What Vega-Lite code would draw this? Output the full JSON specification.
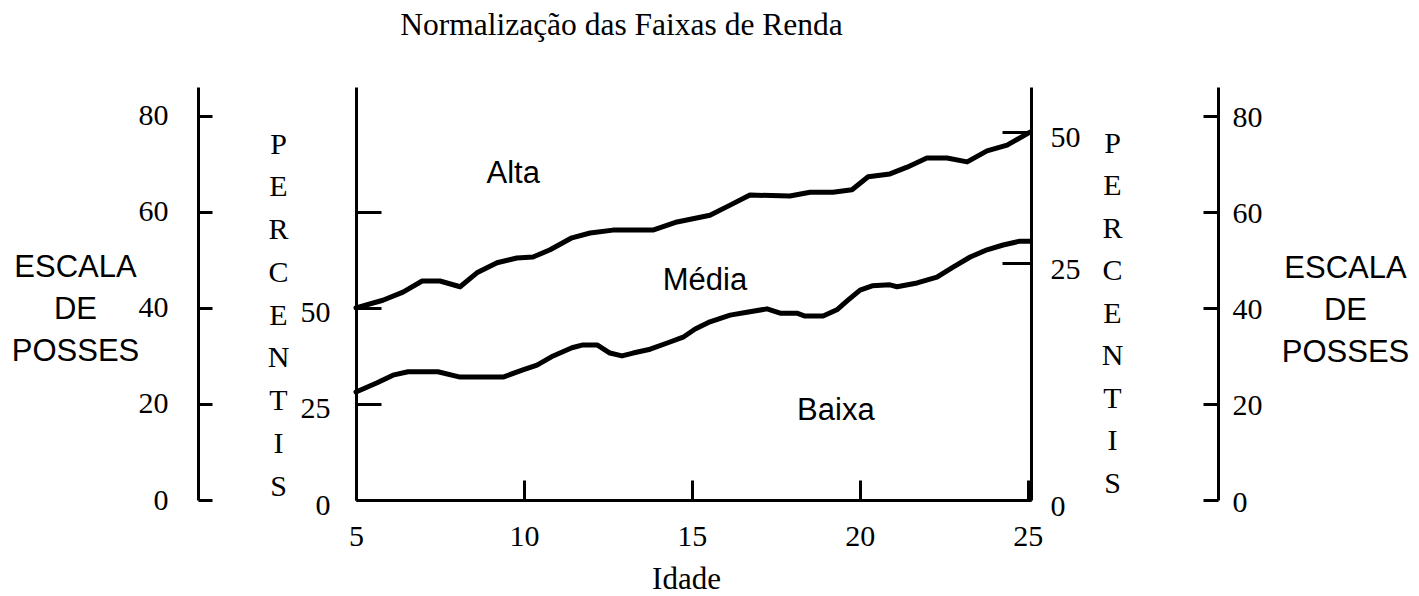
{
  "$schema": "https://vega.github.io/schema/vega-lite/v6.json",
  "width": 675,
  "height": 413,
  "autosize": "none",
  "padding": {"left": 356, "top": 87, "right": 388, "bottom": 96},
  "background": "white",
  "title": {
    "text": "Normalização das Faixas de Renda",
    "font": "Liberation Serif",
    "fontSize": 31.5,
    "fontWeight": "normal",
    "color": "black",
    "anchor": "middle",
    "frame": "group",
    "dx": -72,
    "offset": 21,
    "baseline": "alphabetic"
  },
  "config": {
    "view": {"stroke": null},
    "axis": {
      "grid": false,
      "domainColor": "black",
      "domainWidth": 3,
      "tickColor": "black",
      "tickWidth": 3,
      "labelFont": "Liberation Serif",
      "labelFontSize": 30,
      "labelColor": "black",
      "labelFlush": false,
      "labelOverlap": false,
      "titleColor": "black",
      "titleFontWeight": "normal",
      "titleAngle": 0,
      "titleAlign": "center",
      "titleBaseline": "alphabetic"
    }
  },
  "encoding": {
    "x": {
      "field": "idade", "type": "quantitative",
      "scale": {"domain": [5, 25.1], "nice": false, "zero": false},
      "axis": {
        "orient": "bottom",
        "values": [5, 10, 15, 20, 25],
        "tickSize": -20,
        "labelPadding": 65,
        "labelBaseline": "alphabetic",
        "title": "Idade",
        "titleFont": "Liberation Serif",
        "titleFontSize": 31,
        "titleX": 330,
        "titleY": 88
      }
    }
  },
  "layer": [
    {
      "data": {
        "values": [
          {"faixa": "superior", "idade": 5.00, "posses": 40.0},
          {"faixa": "superior", "idade": 5.80, "posses": 41.6},
          {"faixa": "superior", "idade": 6.40, "posses": 43.3},
          {"faixa": "superior", "idade": 6.97, "posses": 45.6},
          {"faixa": "superior", "idade": 7.50, "posses": 45.6},
          {"faixa": "superior", "idade": 8.10, "posses": 44.4},
          {"faixa": "superior", "idade": 8.60, "posses": 47.3},
          {"faixa": "superior", "idade": 9.20, "posses": 49.4},
          {"faixa": "superior", "idade": 9.79, "posses": 50.4},
          {"faixa": "superior", "idade": 10.27, "posses": 50.6},
          {"faixa": "superior", "idade": 10.78, "posses": 52.1},
          {"faixa": "superior", "idade": 11.43, "posses": 54.6},
          {"faixa": "superior", "idade": 11.97, "posses": 55.6},
          {"faixa": "superior", "idade": 12.65, "posses": 56.2},
          {"faixa": "superior", "idade": 13.84, "posses": 56.2},
          {"faixa": "superior", "idade": 14.56, "posses": 57.9},
          {"faixa": "superior", "idade": 15.54, "posses": 59.3},
          {"faixa": "superior", "idade": 16.14, "posses": 61.4},
          {"faixa": "superior", "idade": 16.73, "posses": 63.5},
          {"faixa": "superior", "idade": 17.92, "posses": 63.3},
          {"faixa": "superior", "idade": 18.52, "posses": 64.1},
          {"faixa": "superior", "idade": 19.20, "posses": 64.1},
          {"faixa": "superior", "idade": 19.77, "posses": 64.6},
          {"faixa": "superior", "idade": 20.25, "posses": 67.3},
          {"faixa": "superior", "idade": 20.90, "posses": 67.9},
          {"faixa": "superior", "idade": 21.41, "posses": 69.3},
          {"faixa": "superior", "idade": 22.00, "posses": 71.2},
          {"faixa": "superior", "idade": 22.60, "posses": 71.2},
          {"faixa": "superior", "idade": 23.20, "posses": 70.4},
          {"faixa": "superior", "idade": 23.79, "posses": 72.7},
          {"faixa": "superior", "idade": 24.39, "posses": 73.9},
          {"faixa": "superior", "idade": 25.07, "posses": 76.6},
          {"faixa": "inferior", "idade": 5.00, "posses": 22.5},
          {"faixa": "inferior", "idade": 5.63, "posses": 24.4},
          {"faixa": "inferior", "idade": 6.10, "posses": 26.0},
          {"faixa": "inferior", "idade": 6.55, "posses": 26.7},
          {"faixa": "inferior", "idade": 7.44, "posses": 26.7},
          {"faixa": "inferior", "idade": 8.10, "posses": 25.6},
          {"faixa": "inferior", "idade": 9.38, "posses": 25.6},
          {"faixa": "inferior", "idade": 9.97, "posses": 27.1},
          {"faixa": "inferior", "idade": 10.39, "posses": 28.1},
          {"faixa": "inferior", "idade": 10.87, "posses": 30.0},
          {"faixa": "inferior", "idade": 11.43, "posses": 31.7},
          {"faixa": "inferior", "idade": 11.76, "posses": 32.3},
          {"faixa": "inferior", "idade": 12.18, "posses": 32.3},
          {"faixa": "inferior", "idade": 12.56, "posses": 30.6},
          {"faixa": "inferior", "idade": 12.92, "posses": 30.0},
          {"faixa": "inferior", "idade": 13.25, "posses": 30.6},
          {"faixa": "inferior", "idade": 13.76, "posses": 31.4},
          {"faixa": "inferior", "idade": 14.35, "posses": 32.9},
          {"faixa": "inferior", "idade": 14.74, "posses": 33.9},
          {"faixa": "inferior", "idade": 15.10, "posses": 35.6},
          {"faixa": "inferior", "idade": 15.54, "posses": 37.1},
          {"faixa": "inferior", "idade": 16.14, "posses": 38.5},
          {"faixa": "inferior", "idade": 16.64, "posses": 39.1},
          {"faixa": "inferior", "idade": 17.24, "posses": 39.8},
          {"faixa": "inferior", "idade": 17.63, "posses": 38.9},
          {"faixa": "inferior", "idade": 18.13, "posses": 38.9},
          {"faixa": "inferior", "idade": 18.37, "posses": 38.3},
          {"faixa": "inferior", "idade": 18.91, "posses": 38.3},
          {"faixa": "inferior", "idade": 19.32, "posses": 39.6},
          {"faixa": "inferior", "idade": 19.65, "posses": 41.6},
          {"faixa": "inferior", "idade": 20.01, "posses": 43.7},
          {"faixa": "inferior", "idade": 20.37, "posses": 44.6},
          {"faixa": "inferior", "idade": 20.90, "posses": 44.8},
          {"faixa": "inferior", "idade": 21.11, "posses": 44.4},
          {"faixa": "inferior", "idade": 21.71, "posses": 45.2},
          {"faixa": "inferior", "idade": 22.30, "posses": 46.4},
          {"faixa": "inferior", "idade": 22.78, "posses": 48.5},
          {"faixa": "inferior", "idade": 23.29, "posses": 50.6},
          {"faixa": "inferior", "idade": 23.79, "posses": 52.1},
          {"faixa": "inferior", "idade": 24.27, "posses": 53.1},
          {"faixa": "inferior", "idade": 24.77, "posses": 53.9},
          {"faixa": "inferior", "idade": 25.07, "posses": 53.9}
        ]
      },
      "mark": {"type": "line", "color": "black", "strokeWidth": 5, "strokeJoin": "round", "strokeCap": "round"},
      "encoding": {
        "y": {
          "field": "posses", "type": "quantitative",
          "scale": {"domain": [0, 86], "nice": false, "zero": false},
          "axis": {
            "orient": "left",
            "offset": 158,
            "values": [0, 20, 40, 60, 80],
            "tickSize": -14,
            "labelPadding": 44,
            "title": ["ESCALA", "DE", "POSSES"],
            "titleFont": "Liberation Sans",
            "titleFontSize": 31,
            "titleLineHeight": 42,
            "titleX": -123,
            "titleY": 189
          }
        },
        "detail": {"field": "faixa"}
      }
    },
    {
      "data": {"values": [{"rotulo": "Alta", "idade": 9.68, "posses": 67.9}]},
      "mark": {"type": "text", "font": "Liberation Sans", "fontSize": 31, "color": "black", "align": "center", "baseline": "middle"},
      "encoding": {
        "y": {
          "field": "posses", "type": "quantitative",
          "scale": {"domain": [0, 86], "nice": false, "zero": false},
          "axis": {
            "orient": "left",
            "offset": 0,
            "values": [0, 20, 40, 60],
            "labelExpr": "datum.value == 0 ? '0' : datum.value == 20 ? '25' : datum.value == 40 ? '50' : ''",
            "tickSize": -25,
            "labelPadding": 51,
            "labelOffset": 5,
            "title": ["P", "E", "R", "C", "E", "N", "T", "I", "S"],
            "titleFont": "Liberation Serif",
            "titleFontSize": 30,
            "titleLineHeight": 42.75,
            "titleX": -78,
            "titleY": 66
          }
        },
        "text": {"field": "rotulo"}
      }
    },
    {
      "data": {"values": [{"rotulo": "Média", "idade": 15.39, "posses": 45.6}]},
      "mark": {"type": "text", "font": "Liberation Sans", "fontSize": 31, "color": "black", "align": "center", "baseline": "middle"},
      "encoding": {
        "y": {
          "field": "posses", "type": "quantitative",
          "scale": {"domain": [0, 86], "nice": false, "zero": false},
          "axis": {
            "orient": "right",
            "offset": 0,
            "values": [0, 49.35, 76.63],
            "labelExpr": "datum.value < 1 ? '0' : datum.value < 60 ? '25' : '50'",
            "tickSize": -29,
            "labelPadding": 48,
            "labelOffset": 6,
            "title": ["P", "E", "R", "C", "E", "N", "T", "I", "S"],
            "titleFont": "Liberation Serif",
            "titleFontSize": 30,
            "titleLineHeight": 42.5,
            "titleX": 81,
            "titleY": 65
          }
        },
        "text": {"field": "rotulo"}
      }
    },
    {
      "data": {"values": [{"rotulo": "Baixa", "idade": 19.29, "posses": 18.5}]},
      "mark": {"type": "text", "font": "Liberation Sans", "fontSize": 31, "color": "black", "align": "center", "baseline": "middle"},
      "encoding": {
        "y": {
          "field": "posses", "type": "quantitative",
          "scale": {"domain": [0, 86], "nice": false, "zero": false},
          "axis": {
            "orient": "right",
            "offset": 187,
            "values": [0, 20, 40, 60, 80],
            "tickSize": -15,
            "labelPadding": 29,
            "labelOffset": 2,
            "title": ["ESCALA", "DE\u00a0\u00a0\u00a0\u00a0\u00a0\u00a0", "POSSES"],
            "titleFont": "Liberation Sans",
            "titleFontSize": 31,
            "titleLineHeight": 42,
            "titleX": 127,
            "titleY": 190
          }
        },
        "text": {"field": "rotulo"}
      }
    }
  ],
  "resolve": {"scale": {"y": "independent"}}
}
